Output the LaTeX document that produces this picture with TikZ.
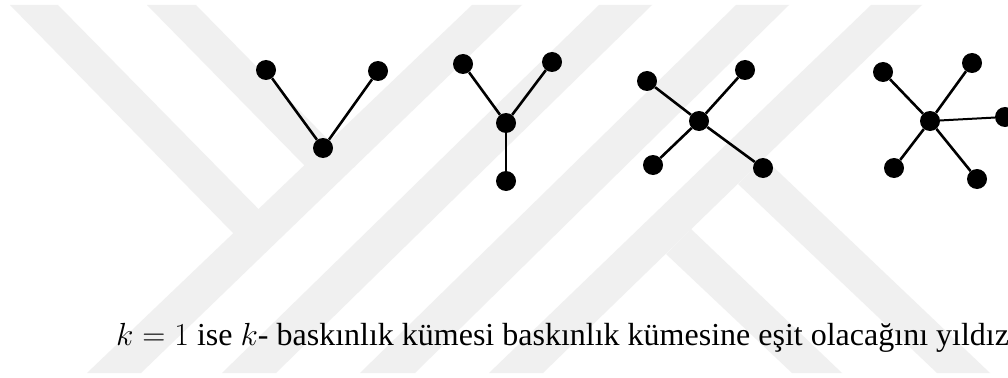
\RequirePackage{fix-cm}
\documentclass[tikz,border=0pt]{standalone}
\usepackage{fontspec}
\setmainfont{Liberation Serif}
\begin{document}
\begin{tikzpicture}[x=1pt, y=-1pt,
    vtx/.style={circle, fill=black, inner sep=0pt, minimum size=20pt},
    arm/.style={line width=2.6pt},
    band/.style={fill=black!6}]
    \clip (0,0) rectangle (1008,377);
    \fill[white] (0,0) rectangle (1008,377);
    \fill[band] (87,373)--(141,373)--(522,5)--(472,5)--cycle;
    \fill[band] (222,373)--(276,373)--(652,5)--(599,5)--cycle;
    \fill[band] (360,373)--(415,373)--(789,5)--(736,5)--cycle;
    \fill[band] (489,373)--(543,373)--(922,5)--(871,5)--cycle;
    \fill[band] (10,5)--(58,5)--(284,235)--(233,233)--cycle;
    \fill[band] (147,5)--(196,5)--(355,167)--(304,165)--cycle;
    \fill[band] (666,254)--(691,229)--(842,373)--(792,373)--cycle;
    \fill[band] (738,184)--(764,158)--(990,373)--(937,373)--cycle;
    \node[vtx] (vc) at (323,148) {};
    \node[vtx] (v1) at (266,70) {};
    \node[vtx] (v2) at (378,71) {};
    \node[vtx] (yc) at (506,123) {};
    \node[vtx] (y1) at (463,64) {};
    \node[vtx] (y2) at (552,62) {};
    \node[vtx] (y3) at (506,181) {};
    \node[vtx] (xc) at (699,121) {};
    \node[vtx] (x1) at (647,81) {};
    \node[vtx] (x2) at (745,70) {};
    \node[vtx] (x3) at (653,165) {};
    \node[vtx] (x4) at (763,168) {};
    \node[vtx] (sc) at (930,121) {};
    \node[vtx] (s1) at (883,72) {};
    \node[vtx] (s2) at (972,63) {};
    \node[vtx] (s3) at (1005,117) {};
    \node[vtx] (s4) at (894,168) {};
    \node[vtx] (s5) at (977,179) {};
    \foreach \a/\b in {vc/v1, vc/v2, yc/y1, yc/y2, yc/y3, xc/x1, xc/x2, xc/x3, xc/x4,
                       sc/s1, sc/s2, sc/s4, sc/s5}
        \draw[arm] (\a)--(\b);
    \draw[arm, line width=2pt] (sc)--(s3);
    \node[anchor=base west, inner sep=0pt, font=\fontsize{32}{38}\selectfont] (cap) at (116,345)
        {$k=1$ ise $k$- baskınlık kümesi baskınlık kümesine eşit olacağını yıldız};
\end{tikzpicture}
\end{document}
